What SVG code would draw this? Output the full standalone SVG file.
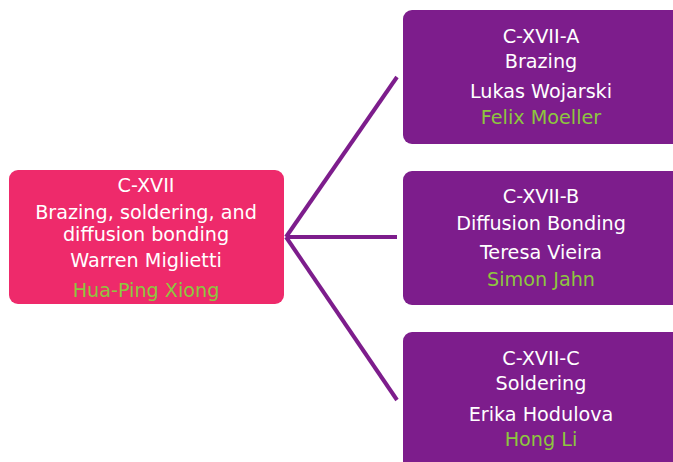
<svg xmlns="http://www.w3.org/2000/svg" width="673" height="462" viewBox="0 0 673 462">
<style>
.t{font-family:"DejaVu Sans","Verdana",sans-serif;font-size:19.2px;fill:#ffffff;text-anchor:middle}
.g{fill:#8DC63F}
.root{fill:#EE2A6B}
.child{fill:#7D1D8C}
.conn{stroke:#7D1D8C;stroke-width:4;fill:none}
</style>
<rect width="673" height="462" fill="#ffffff"/>
<g id="connectors">
<line class="conn" x1="286" y1="237" x2="397" y2="77"/>
<line class="conn" x1="286" y1="237" x2="397" y2="237"/>
<line class="conn" x1="286" y1="237" x2="397" y2="400"/>
</g>
<g id="node-root">
<rect class="root" x="9" y="170" width="275" height="134" rx="9"/>
<text class="t" x="146" y="192">C-XVII</text>
<text class="t" x="146" y="219">Brazing, soldering, and</text>
<text class="t" x="146" y="241">diffusion bonding</text>
<text class="t" x="146" y="267">Warren Miglietti</text>
<text class="t g" x="146" y="297">Hua-Ping Xiong</text>
</g>
<g id="node-a">
<rect class="child" x="403" y="10" width="280" height="134" rx="9"/>
<text class="t" x="541" y="43">C-XVII-A</text>
<text class="t" x="541" y="68">Brazing</text>
<text class="t" x="541" y="98">Lukas Wojarski</text>
<text class="t g" x="541" y="124">Felix Moeller</text>
</g>
<g id="node-b">
<rect class="child" x="403" y="171" width="280" height="134" rx="9"/>
<text class="t" x="541" y="203">C-XVII-B</text>
<text class="t" x="541" y="230">Diffusion Bonding</text>
<text class="t" x="541" y="259">Teresa Vieira</text>
<text class="t g" x="541" y="286">Simon Jahn</text>
</g>
<g id="node-c">
<rect class="child" x="403" y="332" width="280" height="140" rx="9"/>
<text class="t" x="541" y="365">C-XVII-C</text>
<text class="t" x="541" y="390">Soldering</text>
<text class="t" x="541" y="421">Erika Hodulova</text>
<text class="t g" x="541" y="446">Hong Li</text>
</g>
</svg>
